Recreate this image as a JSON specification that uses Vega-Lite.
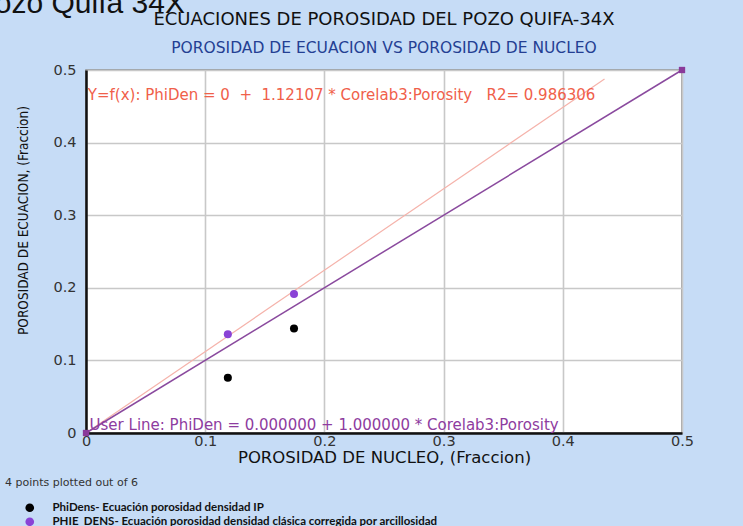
{
  "$schema": "https://vega.github.io/schema/vega-lite/v6.json",
  "width": 596,
  "height": 363,
  "autosize": "none",
  "padding": {"left": 86, "top": 70, "right": 61, "bottom": 93},
  "background": "#c6dcf6",
  "title": {
    "text": "ECUACIONES DE POROSIDAD DEL POZO QUIFA-34X",
    "subtitle": "POROSIDAD DE ECUACION VS POROSIDAD DE NUCLEO",
    "anchor": "middle",
    "frame": "group",
    "font": "DejaVu Sans",
    "fontSize": 18,
    "fontWeight": "normal",
    "color": "#111111",
    "subtitleFont": "DejaVu Sans",
    "subtitleFontSize": 15.5,
    "subtitleColor": "#243f93",
    "subtitlePadding": 12,
    "offset": 14,
    "dy": 81
  },
  "config": {
    "view": {"fill": "white", "stroke": "#8a8a8a", "strokeWidth": 1.5},
    "axis": {
      "gridColor": "#c8c8c8",
      "gridWidth": 1.6,
      "domainColor": "#111111",
      "domainWidth": 2.5,
      "ticks": false,
      "labelFont": "DejaVu Sans",
      "labelFontSize": 14.5,
      "labelColor": "#333333",
      "titleFontWeight": "normal",
      "titleColor": "#111111"
    }
  },
  "encoding": {
    "x": {
      "field": "x",
      "type": "quantitative",
      "scale": {"domain": [0, 0.5], "nice": false, "zero": true},
      "axis": {
        "values": [0, 0.1, 0.2, 0.3, 0.4, 0.5],
        "format": ".1~f",
        "labelFlush": false,
        "labelPadding": 1,
        "title": "POROSIDAD DE NUCLEO, (Fraccion)",
        "titleFont": "DejaVu Sans",
        "titleFontSize": 16.5,
        "titleY": 24,
        "titleBaseline": "middle"
      }
    },
    "y": {
      "field": "y",
      "type": "quantitative",
      "scale": {"domain": [0, 0.5], "nice": false, "zero": true},
      "axis": {
        "values": [0, 0.1, 0.2, 0.3, 0.4, 0.5],
        "format": ".1~f",
        "labelFlush": false,
        "labelPadding": 10,
        "title": "POROSIDAD DE ECUACION, (Fraccion)",
        "titleFont": "Liberation Sans Narrow, DejaVu Sans Condensed, sans-serif",
        "titleFontSize": 13.5,
        "titleX": -63,
        "titleY": 150,
        "titleAngle": 270,
        "titleAlign": "center",
        "titleBaseline": "middle"
      }
    }
  },
  "layer": [
    {
      "data": {"values": [{"x": 0, "y": 0}, {"x": 0.435, "y": 0.4877}]},
      "mark": {"type": "line", "color": "#f5b3ab", "strokeWidth": 1.2}
    },
    {
      "data": {"values": [{"x": 0, "y": 0}, {"x": 0.5, "y": 0.5}]},
      "mark": {"type": "line", "color": "#8a4a9e", "strokeWidth": 1.5}
    },
    {
      "data": {"values": [{"x": 0.5}]},
      "mark": {"type": "rule", "color": "#111111", "strokeWidth": 3},
      "encoding": {"x": {"field": "x", "type": "quantitative"}, "y": {"datum": 0}, "y2": {"datum": 0.5}}
    },
    {
      "data": {"values": [{"x": 0, "y": 0}, {"x": 0.5, "y": 0.5}]},
      "mark": {"type": "square", "color": "#8a3a9a", "size": 40, "opacity": 1}
    },
    {
      "data": {
        "values": [
          {"x": 0.119, "y": 0.076, "serie": "PhiDens- Ecuación porosidad densidad IP"},
          {"x": 0.1745, "y": 0.144, "serie": "PhiDens- Ecuación porosidad densidad IP"},
          {"x": 0.119, "y": 0.136, "serie": "PHIE_DENS- Ecuación porosidad densidad clásica corregida por arcillosidad"},
          {"x": 0.1745, "y": 0.1915, "serie": "PHIE_DENS- Ecuación porosidad densidad clásica corregida por arcillosidad"}
        ]
      },
      "mark": {"type": "circle", "size": 65, "opacity": 1},
      "encoding": {
        "color": {
          "field": "serie",
          "type": "nominal",
          "scale": {
            "domain": ["PhiDens- Ecuación porosidad densidad IP", "PHIE_DENS- Ecuación porosidad densidad clásica corregida por arcillosidad"],
            "range": ["#000000", "#8a43d6"]
          },
          "legend": {
            "title": "4 points plotted out of 6",
            "orient": "none",
            "legendX": -81,
            "legendY": 407,
            "titleFont": "DejaVu Sans",
            "titleFontSize": 11,
            "titleFontWeight": "normal",
            "titleColor": "#333333",
            "titlePadding": 14,
            "titleLimit": 400,
            "labelFont": "Lato",
            "labelFontSize": 11.5,
            "labelFontWeight": "bold",
            "labelColor": "#111111",
            "labelLimit": 600,
            "labelOffset": 17,
            "symbolOffset": 19,
            "symbolType": "circle",
            "symbolSize": 75,
            "symbolStrokeWidth": 0,
            "rowPadding": 1,
            "padding": 0
          }
        }
      }
    },
    {
      "data": {"values": [{"x": 0.0015, "y": 0.459, "t": "Y=f(x): PhiDen = 0\u00a0\u00a0+\u00a0\u00a01.12107 * Corelab3:Porosity\u00a0\u00a0\u00a0R2= 0.986306"}]},
      "mark": {"type": "text", "align": "left", "baseline": "alphabetic", "font": "DejaVu Sans", "fontSize": 15, "color": "#f0604a"},
      "encoding": {"text": {"field": "t"}}
    },
    {
      "data": {"values": [{"x": 0.003, "y": 0.004, "t": "User Line: PhiDen = 0.000000 + 1.000000 * Corelab3:Porosity"}]},
      "mark": {"type": "text", "align": "left", "baseline": "alphabetic", "font": "DejaVu Sans", "fontSize": 15, "color": "#8e3ca0"},
      "encoding": {"text": {"field": "t"}}
    },
    {
      "data": {"values": [{"x": 0.083, "y": 0.578, "t": "Pozo Quifa 34X"}]},
      "mark": {"type": "text", "align": "right", "baseline": "alphabetic", "font": "Liberation Sans", "fontSize": 30, "color": "#111111"},
      "encoding": {"text": {"field": "t"}}
    }
  ]
}
